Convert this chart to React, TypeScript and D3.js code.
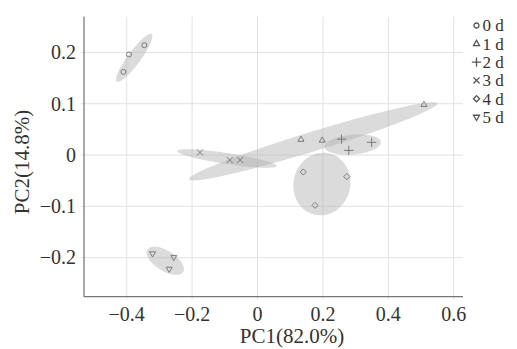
import React from "react";
import * as d3 from "d3";

const groups = ["0 d", "1 d", "2 d", "3 d", "4 d", "5 d"];

// PC1 / PC2 scores, three replicates per group
const pc1 = [
  [-0.41, -0.393, -0.346],
  [0.133, 0.198, 0.509],
  [0.257, 0.279, 0.349],
  [-0.176, -0.085, -0.053],
  [0.14, 0.273, 0.176],
  [-0.321, -0.256, -0.27],
];
const pc2 = [
  [0.162, 0.196, 0.214],
  [0.03, 0.0285, 0.098],
  [0.031, 0.009, 0.0247],
  [0.005, -0.0097, -0.0097],
  [-0.033, -0.042, -0.098],
  [-0.192, -0.199, -0.222],
];

// confidence ellipses: centre, tip of major axis, minor/major ratio
const ellCx = [-0.377, 0.1705, 0.2915, -0.0935, 0.1968, -0.282];
const ellCy = [0.1893, 0.0267, 0.0204, -0.0068, -0.0565, -0.206];
const ellTx = [-0.3236, 0.5503, 0.3777, 0.0584, 0.2212, -0.2273];
const ellTy = [0.2356, 0.1007, 0.0253, -0.0214, 0.0029, -0.2277];
const ellRatio = [0.22, 0.075, 0.35, 0.11, 0.9, 0.48];

const xTicks = [-0.4, -0.2, 0, 0.2, 0.4, 0.6];
const yTicks = [-0.2, -0.1, 0, 0.1, 0.2];

const W = 517;
const H = 349;
const m = { left: 84, right: 463, top: 16.7, bottom: 296.7 };

const x = d3.scaleLinear().domain([-0.5306, 0.6284]).range([m.left, m.right]);
const y = d3.scaleLinear().domain([-0.276, 0.2695]).range([m.bottom, m.top]);

const symTypes = [
  d3.symbolCircle,
  d3.symbolTriangle2,
  d3.symbolPlus,
  d3.symbolX,
  d3.symbolDiamond2,
  d3.symbolTriangle2,
];
const symSizes = [20, 26, 30, 26, 24, 26];

function fmt(v: number) {
  if (v === 0) return "0";
  return (v < 0 ? "\u2212" : "") + Math.abs(v).toFixed(1);
}

function ellipsePath(i: number) {
  const cx = x(ellCx[i]);
  const cy = y(ellCy[i]);
  const ax = x(ellTx[i]) - cx;
  const ay = y(ellTy[i]) - cy;
  const bx = -ay * ellRatio[i];
  const by = ax * ellRatio[i];
  const pts: [number, number][] = d3.range(0, 73).map((k) => {
    const t = (k / 72) * Math.PI * 2;
    return [cx + ax * Math.cos(t) + bx * Math.sin(t), cy + ay * Math.cos(t) + by * Math.sin(t)];
  });
  return d3.line().curve(d3.curveLinearClosed)(pts) || "";
}

export default function App() {
  const font = "'Liberation Serif', 'Times New Roman', serif";
  return (
    <svg
      width={W}
      height={H}
      style={{ position: "absolute", left: 0, top: 0, background: "#fff" }}
      fontFamily={font}
    >
      {/* grid */}
      {xTicks.map((t) => (
        <line key={"gx" + t} x1={x(t)} x2={x(t)} y1={m.top} y2={m.bottom + 3} stroke="#e2e2e2" />
      ))}
      {yTicks.map((t) => (
        <line key={"gy" + t} x1={m.left - 3} x2={m.right} y1={y(t)} y2={y(t)} stroke="#e2e2e2" />
      ))}

      {/* ellipses */}
      {groups.map((g, i) => (
        <path key={"e" + g} d={ellipsePath(i)} fill="#b0b0b0" fillOpacity={0.45} />
      ))}

      {/* points */}
      {groups.map((g, i) =>
        pc1[i].map((v, j) => (
          <path
            key={g + j}
            d={d3.symbol(symTypes[i], symSizes[i])() || ""}
            transform={`translate(${x(v)},${y(pc2[i][j])})${i === 5 ? " rotate(180)" : ""}`}
            fill="none"
            stroke="#707070"
            strokeWidth={0.9}
          />
        ))
      )}

      {/* axes */}
      <line x1={m.left} x2={m.left} y1={m.top} y2={m.bottom} stroke="#555" />
      <line x1={m.left} x2={m.right} y1={m.bottom} y2={m.bottom} stroke="#555" />

      {xTicks.map((t) => (
        <text key={"xt" + t} x={x(t)} y={321} textAnchor="middle" fontSize={20} fill="#333">
          {fmt(t)}
        </text>
      ))}
      {yTicks.map((t) => (
        <text key={"yt" + t} x={76} y={y(t)} dy="0.34em" textAnchor="end" fontSize={20} fill="#333">
          {fmt(t)}
        </text>
      ))}

      <text x={292} y={343} textAnchor="middle" fontSize={21} fill="#333">
        PC1(82.0%)
      </text>
      <text
        transform={`translate(29,162) rotate(-90)`}
        textAnchor="middle"
        fontSize={21}
        fill="#333"
      >
        PC2(14.8%)
      </text>

      {/* legend */}
      {groups.map((g, i) => (
        <g key={"l" + g} transform={`translate(476.5,${25.5 + i * 18.3})`}>
          <path
            d={d3.symbol(symTypes[i], symSizes[i])() || ""}
            transform={i === 5 ? "rotate(180)" : ""}
            fill="none"
            stroke="#555"
            strokeWidth={1.3}
          />
          <text x={6} dy="0.35em" fontSize={17} fill="#333">
            {g}
          </text>
        </g>
      ))}
    </svg>
  );
}
